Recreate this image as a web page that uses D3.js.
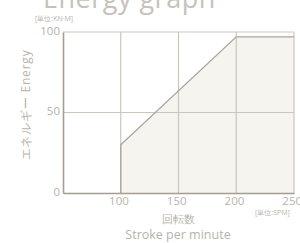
<!DOCTYPE html>
<html><head><meta charset="utf-8">
<script src="https://cdn.jsdelivr.net/npm/d3@7"></script>
<style>body{margin:0;background:#fff}svg{display:block}text{font-family:"Open Sans","DejaVu Sans",sans-serif}</style>
</head><body><div id="c"></div>
<script>
const strokeSPM = [100, 100, 200, 250, 250];
const energy =    [0, 30, 97, 97, 0];
const xTicks = [100, 150, 200, 250];
const yTicks = [0, 50, 100];

const W = 300, H = 243;
const svg = d3.select("#c").append("svg").attr("width", W).attr("height", H);
const x = d3.scaleLinear().domain([50, 250]).range([63, 294]);
const y = d3.scaleLinear().domain([0, 100]).range([193, 32]);
const grid = "#cbc7bf", txt = "#b8b3aa", axisC = "#a39d93";

// title (cut off at top)
svg.append("text").attr("x", 43).attr("y", 8).attr("font-size", 27).attr("letter-spacing", 0.5)
  .attr("fill", "#c6c2ba").text("Energy graph");

// fill area
const pts = strokeSPM.map((s, i) => [s, energy[i]]);
svg.append("path").attr("d", d3.area().x(d => x(d[0])).y0(y(0)).y1(d => y(d[1]))(pts)).attr("fill", "#f6f4ee");

// grid
svg.append("g").selectAll("line").data(xTicks).join("line")
  .attr("x1", d => x(d)).attr("x2", d => x(d)).attr("y1", y(100)).attr("y2", y(0))
  .attr("stroke", grid).attr("stroke-width", 1.2);
svg.append("g").selectAll("line").data([50, 100]).join("line")
  .attr("x1", x(50)).attr("x2", x(250)).attr("y1", d => y(d)).attr("y2", d => y(d))
  .attr("stroke", grid).attr("stroke-width", 1.2);

// energy line
svg.append("path").attr("d", d3.line().x(d => x(d[0])).y(d => y(d[1]))(pts.slice(0, 4)))
  .attr("fill", "none").attr("stroke", "#aaa59d").attr("stroke-width", 1.3);

// axes
const xAxis = svg.append("g").attr("transform", `translate(0,${y(0)})`)
  .call(d3.axisBottom(x).tickValues(xTicks).tickSize(0).tickPadding(4));
const yAxis = svg.append("g").attr("transform", `translate(${x(50)},0)`)
  .call(d3.axisLeft(y).tickValues(yTicks).tickSize(0).tickPadding(3));
[xAxis, yAxis].forEach(a => {
  a.select(".domain").attr("stroke", axisC).attr("stroke-width", 1.6);
  a.selectAll("text").attr("fill", txt).attr("font-size", 11.5).attr("font-family", "Open Sans, sans-serif");
});
xAxis.selectAll("text").attr("dx", "-0.2em");
yAxis.selectAll("text").attr("dy", "0.2em");

// labels
svg.append("text").attr("x", 35).attr("y", 21).attr("font-size", 7).attr("fill", txt).text("[単位:KN·M]");
svg.append("text").attr("x", 255).attr("y", 215).attr("font-size", 7).attr("fill", txt).text("[単位:SPM]");
svg.append("text").attr("x", 178).attr("y", 223).attr("text-anchor", "middle").attr("font-size", 11).attr("fill", txt).text("回転数");
svg.append("text").attr("x", 178).attr("y", 239).attr("text-anchor", "middle").attr("font-size", 12.5).attr("fill", txt).text("Stroke per minute");
svg.append("text").attr("transform", "translate(30,105) rotate(-90)").attr("text-anchor", "middle")
  .attr("font-size", 12).attr("letter-spacing", 0.8).attr("fill", txt).text("エネルギー Energy");
</script></body></html>
